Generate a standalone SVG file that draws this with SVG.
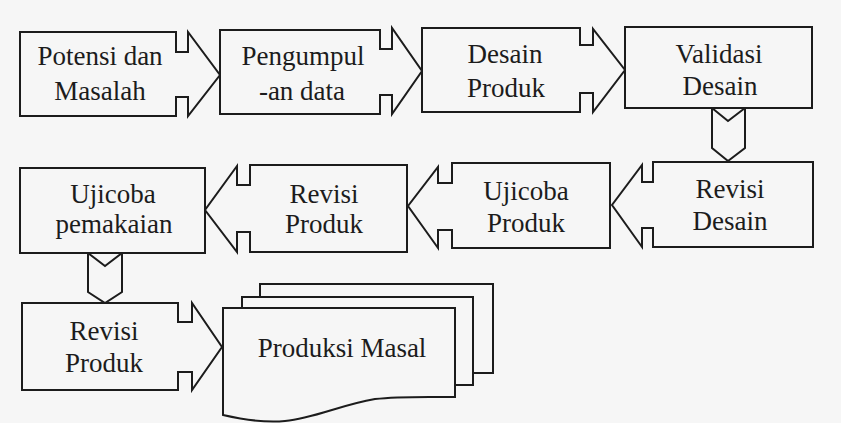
<svg xmlns="http://www.w3.org/2000/svg" width="841" height="423" viewBox="0 0 841 423">
<style>
.shape{fill:#f6f6f6;stroke:#1c1c1c;stroke-width:2;stroke-linejoin:miter}
.line{fill:none;stroke:#1c1c1c;stroke-width:2;stroke-linejoin:miter}
text{font-family:"Liberation Serif","Times New Roman",serif;font-size:27px;fill:#1c1c1c;text-anchor:middle}
</style>
<rect x="0" y="0" width="841" height="423" fill="#f6f6f6"/>
<g id="connectors">
<path class="line" d="M712,108 V148 L728,161 L745,148 V108 M712,108 L728,121 L745,108"/>
<path class="line" d="M88,253 V292 L105,303 L122,292 V253 M88,253 L105,266 L122,253"/>
</g>
<g id="potensi">
<path class="shape" d="M20,32 H176 V52 H188 V32 L220,75 L188,116 V97 H176 V116 H20 Z"/>
<text x="100" y="65">Potensi dan</text>
<text x="100" y="100">Masalah</text>
</g>
<g id="pengumpulan">
<path class="shape" d="M220,30 H380 V49 H392 V28 L422,71 L392,114 V95 H380 V114 H220 Z"/>
<text x="303" y="65">Pengumpul</text>
<text x="302" y="100">-an data</text>
</g>
<g id="desain-produk">
<path class="shape" d="M422,28 H580 V45 H593 V29 L625,70 L593,112 V93 H580 V112 H422 Z"/>
<text x="505" y="63">Desain</text>
<text x="506" y="97">Produk</text>
</g>
<g id="validasi">
<rect class="shape" x="625" y="27" width="187" height="81"/>
<text x="719" y="63">Validasi</text>
<text x="720" y="95">Desain</text>
</g>
<g id="revisi-desain">
<path class="shape" d="M653,162 H813 V247 H653 V228 H642 V247 L612,205 L642,165 V182 H653 Z"/>
<text x="730" y="198">Revisi</text>
<text x="730" y="230">Desain</text>
</g>
<g id="ujicoba-produk">
<path class="shape" d="M452,163 H610 V248 H452 V230 H438 V248 L408,206 L438,167 V183 H452 Z"/>
<text x="526" y="200">Ujicoba</text>
<text x="526" y="232">Produk</text>
</g>
<g id="revisi-produk-1">
<path class="shape" d="M250,165 H407 V252 H250 V232 H237 V252 L205,210 L237,166 V185 H250 Z"/>
<text x="324" y="203">Revisi</text>
<text x="324" y="233">Produk</text>
</g>
<g id="ujicoba-pemakaian">
<rect class="shape" x="20" y="168" width="185" height="85"/>
<text x="113" y="203">Ujicoba</text>
<text x="114" y="233">pemakaian</text>
</g>
<g id="revisi-produk-2">
<path class="shape" d="M22,303 H178 V322 H192 V303 L222,347 L192,390 V372 H178 V390 H22 Z"/>
<text x="104" y="340">Revisi</text>
<text x="104" y="372">Produk</text>
</g>
<g id="produksi-masal">
<path class="line" d="M260,297 V284 H493 V373 H473"/>
<path class="line" d="M242,308 V297 H473 V385 H455"/>
<path class="shape" d="M223,308 H455 V397 C430,397 400,396 375,399 C340,405 315,418 285,421 C265,423 245,420 223,415 Z"/>
<text x="342" y="357">Produksi Masal</text>
</g>
</svg>
